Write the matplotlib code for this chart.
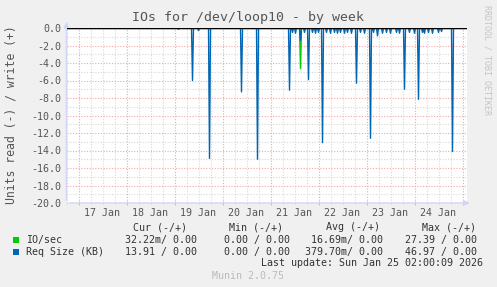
import numpy as np
import matplotlib
matplotlib.use("Agg")
import matplotlib.pyplot as plt
from matplotlib.patches import Rectangle

# time axis: hours since Fri 16 Jan 18:00, 30 min resolution
t_start, t_end, step = 0.0, 200.0, 0.5

# read (-) spikes for Req Size (KB): hour offset, value
req_hours = [56.0, 63.0, 66.0, 71.5, 87.5, 95.5, 111.5, 113.0, 114.5, 117.0,
             119.0, 121.0, 123.0, 124.5, 126.0, 128.0, 130.0, 132.0, 134.0, 135.5,
             137.0, 139.0, 140.5, 142.5, 145.0, 147.0, 149.0, 152.0, 153.5, 155.5,
             158.0, 160.0, 162.0, 165.0, 166.5, 169.0, 171.5, 174.0, 176.0, 178.0,
             179.0, 181.0, 183.0, 186.0, 187.5, 193.0]
req_vals = [0.15, 6.0, 0.3, 14.9, 7.3, 15.0, 7.1, 0.5, 0.6, 1.4,
            0.5, 5.9, 0.5, 0.6, 0.5, 13.1, 0.5, 0.6, 0.5, 0.6,
            0.5, 0.6, 0.5, 0.6, 6.3, 0.5, 0.6, 12.6, 0.5, 0.9,
            0.6, 0.5, 0.6, 0.5, 0.6, 7.0, 0.5, 0.6, 8.15, 0.5,
            0.6, 0.5, 0.6, 0.5, 0.4, 14.1]

# read (-) spikes for IO/sec
io_hours = [117.0]
io_vals = [4.65]

day_names = ["17 Jan", "18 Jan", "19 Jan", "20 Jan", "21 Jan", "22 Jan", "23 Jan", "24 Jan"]
first_midnight = 6.0

col_headers = ["Cur (-/+)", "Min (-/+)", "Avg (-/+)", "Max (-/+)"]
io_stats = ["32.22m/ 0.00", "0.00 / 0.00", "16.69m/ 0.00", "27.39 / 0.00"]
req_stats = ["13.91 / 0.00", "0.00 / 0.00", "379.70m/ 0.00", "46.97 / 0.00"]

# build series
t = np.arange(t_start, t_end + step, step)
req = np.zeros_like(t)
io = np.zeros_like(t)
for h, v in zip(req_hours, req_vals):
    req[int(round(h / step))] = -v
for h, v in zip(io_hours, io_vals):
    io[int(round(h / step))] = -v

W, H = 497, 287
plt.rcParams['font.family'] = ['DejaVu Sans Mono']
fig = plt.figure(figsize=(W / 100, H / 100), dpi=100, facecolor='#F0F0F0')
ax = fig.add_axes([66.5 / W, (H - 203) / H, 400 / W, 175 / H], facecolor='white')

GREEN = '#00CC00'
BLUE = '#0066B3'
FONT = '#555555'
AXIS = '#CFD6F8'

ax.plot(t, io, color=GREEN, lw=1.0, zorder=3)
ax.plot(t, req, color=BLUE, lw=1.0, zorder=4)
ax.plot(t, np.zeros_like(t), color=GREEN, lw=1.0, zorder=3)
ax.axhline(0, color='black', lw=1.0, zorder=5)

ax.set_xlim(t_start, t_end)
ax.set_ylim(-20, 0)

# grid
midnights = first_midnight + 24 * np.arange(len(day_names) + 1)
ax.set_xticks(midnights)
ax.set_xticks(np.arange(first_midnight % 6, t_end, 6), minor=True)
ax.set_yticks(np.arange(-20, 0.1, 2))
ax.set_yticks(np.arange(-20, 0.1, 1), minor=True)
ax.grid(which='minor', color='#D8D8D8', lw=0.8, ls=(0, (1, 1.5)))
ax.grid(which='major', color='#F0A8A8', lw=0.8, ls=(0, (1, 1.5)))
ax.set_axisbelow(True)
ax.set_xticklabels([])
ax.set_yticklabels(["%.1f" % v if v != 0 else "0.0" for v in np.arange(-20, 0.1, 2)])
ax.tick_params(axis='y', which='both', length=0, labelsize=7.2, labelcolor=FONT, pad=4)
ax.tick_params(axis='x', which='major', length=3, direction='inout', color='#F0A8A8')
ax.tick_params(axis='x', which='minor', length=2, direction='inout', color='#D0D0D0')
for s in ax.spines.values():
    s.set_visible(False)

# day labels at noon
xt = ax.get_xaxis_transform()
for i, d in enumerate(day_names):
    ax.text(first_midnight + 12 + 24 * i, -(212.7 - 203) / 175, d, transform=xt,
            ha='center', va='center', fontsize=7.2, color=FONT)

# axis lines with arrows
ax.annotate('', xy=(0, 1 + 9 / 175), xytext=(0, 0), xycoords='axes fraction',
            arrowprops=dict(arrowstyle='-|>', color=AXIS, lw=1, mutation_scale=8),
            annotation_clip=False)
ax.annotate('', xy=(1 + 6 / 400, 0), xytext=(0, 0), xycoords='axes fraction',
            arrowprops=dict(arrowstyle='-|>', color=AXIS, lw=1, mutation_scale=8),
            annotation_clip=False)


def ftext(x, y, s, **kw):
    kw.setdefault('fontsize', 7.2)
    kw.setdefault('color', FONT)
    kw.setdefault('va', 'center')
    fig.text(x / W, 1 - y / H, s, **kw)


ftext(248, 18, "IOs for /dev/loop10 - by week", ha='center', fontsize=9.5)
ftext(11, 115, "Units read (-) / write (+)", ha='center', rotation=90, fontsize=8.3)
ftext(487.5, 60, "RRDTOOL / TOBI OETIKER", ha='center', rotation=270,
      fontsize=6, color='#C4C4C4')

header_right = [187, 283, 380, 476]
value_right = [197, 290, 383, 477]
for xr, s in zip(header_right, col_headers):
    ftext(xr, 227.3, s, ha='right', color='#333333')

rows = [("IO/sec", GREEN, io_stats, 240), ("Req Size (KB)", BLUE, req_stats, 251.7)]
for name, c, stats, y in rows:
    fig.add_artist(Rectangle((13 / W, 1 - (y + 3) / H), 6 / W, 6 / H,
                             transform=fig.transFigure, color=c, lw=0))
    ftext(26, y, name, ha='left', color='#333333')
    for xr, s in zip(value_right, stats):
        ftext(xr, y, s, ha='right', color='#333333')

ftext(483, 263.3, "Last update: Sun Jan 25 02:00:09 2026", ha='right', color='#333333')
ftext(247.5, 276.3, "Munin 2.0.75", ha='center', color='#BBBBBB')

fig.savefig("out.png", dpi=100, facecolor=fig.get_facecolor())
